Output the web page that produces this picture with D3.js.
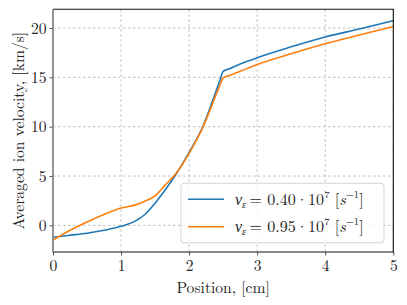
<!DOCTYPE html>
<html><head><meta charset="utf-8">
<script src="https://cdn.jsdelivr.net/npm/d3@7"></script>
<style>body{margin:0;background:#fff;} svg{display:block;}</style>
</head><body>
<svg id="c" width="407" height="305"></svg>
<script>
const positions = [0, 0.25, 0.5, 0.75, 1.0, 1.2, 1.35, 1.5, 1.65, 1.8, 2.0, 2.2, 2.4, 2.45, 2.5, 2.6, 2.75, 3.0, 3.5, 4.0, 4.5, 5.0];
const velLow  = [-1.2, -1.0, -0.8, -0.5, -0.1, 0.4, 1.1, 2.25, 3.6, 5.1, 7.4, 10.0, 13.7, 14.65, 15.6, 15.9, 16.35, 17.0, 18.1, 19.1, 19.9, 20.75];
const velHigh = [-1.5, -0.5, 0.35, 1.1, 1.75, 2.05, 2.45, 3.0, 4.1, 5.2, 7.3, 9.9, 13.3, 14.15, 14.95, 15.22, 15.62, 16.3, 17.4, 18.4, 19.3, 20.15];
const xTicks = [0, 1, 2, 3, 4, 5];
const yTicks = [0, 5, 10, 15, 20];
const seriesNames = ["0.40", "0.95"];

const FONT = '"Latin Modern Roman","Liberation Serif",serif';
const FS = 15.6;
const svg = d3.select("#c");
const L = 53, R = 393.3, T = 9.3, B = 252;
const x = d3.scaleLinear().domain([0, 5]).range([L, R]);
const y = d3.scaleLinear().domain([-2.7, 21.9]).range([B, T]);

// grid
const g = svg.append("g");
g.selectAll("line.gx").data(xTicks).enter().append("line")
  .attr("x1", d => x(d)).attr("x2", d => x(d)).attr("y1", T).attr("y2", B)
  .attr("stroke", "#b0b0b0").attr("stroke-width", 0.8).attr("stroke-dasharray", "2.5,2.5");
g.selectAll("line.gy").data(yTicks).enter().append("line")
  .attr("y1", d => y(d)).attr("y2", d => y(d)).attr("x1", L).attr("x2", R)
  .attr("stroke", "#b0b0b0").attr("stroke-width", 0.8).attr("stroke-dasharray", "2.5,2.5");

// lines
const colors = ["#1f77b4", "#ff7f0e"];
const series = [velLow, velHigh];
const line = d3.line().x(d => x(d[0])).y(d => y(d[1])).curve(d3.curveMonotoneX);
svg.append("defs").append("clipPath").attr("id", "clip").append("rect")
  .attr("x", L).attr("y", T).attr("width", R - L).attr("height", B - T);
series.forEach((s, i) => {
  svg.append("path").attr("clip-path", "url(#clip)")
    .attr("d", line(positions.map((p, j) => [p, s[j]])))
    .attr("fill", "none").attr("stroke", colors[i]).attr("stroke-width", 1.6);
});

// axes
const xa = svg.append("g").attr("transform", `translate(0,${B})`)
  .call(d3.axisBottom(x).tickValues(xTicks).tickSize(3.5).tickPadding(4).tickFormat(d3.format("d")));
const ya = svg.append("g").attr("transform", `translate(${L},0)`)
  .call(d3.axisLeft(y).tickValues(yTicks).tickSize(3.5).tickPadding(3).tickFormat(d3.format("d")));
[xa, ya].forEach(a => {
  a.select(".domain").remove();
  a.selectAll(".tick line").attr("stroke", "#222").attr("stroke-width", 0.8);
  a.selectAll(".tick text").style("font-family", FONT).style("font-size", FS + "px").attr("fill", "#222");
});
xa.selectAll(".tick text").attr("dy", "0.75em");

// spines
svg.append("path").attr("d", `M${L},${T}H${R}V${B}H${L}`).attr("fill", "none")
  .attr("stroke", "#111").attr("stroke-width", 1.1);
svg.append("line").attr("x1", L).attr("x2", L).attr("y1", T).attr("y2", B + 0.5)
  .attr("stroke", "#888").attr("stroke-width", 1.8);

// axis labels
svg.append("text").attr("x", (L + R) / 2).attr("y", 292.5).attr("text-anchor", "middle")
  .style("font-family", FONT).style("font-size", FS + "px").attr("fill", "#222").text("Position, [cm]");
svg.append("text").attr("transform", "rotate(-90)").attr("x", -(T + B) / 2).attr("y", 24)
  .attr("text-anchor", "middle").style("font-family", FONT).style("font-size", FS + "px").attr("fill", "#222")
  .text("Averaged ion velocity, [km/s]");

// legend
const lg = svg.append("g");
lg.append("rect").attr("x", 181).attr("y", 183.3).attr("width", 203).attr("height", 59.5)
  .attr("rx", 3).attr("fill", "#fff").attr("fill-opacity", 0.8).attr("stroke", "#d0d0d0").attr("stroke-width", 0.9);
const rowsY = [199.3, 226.7];
seriesNames.forEach((nm, i) => {
  const ry = rowsY[i];
  lg.append("line").attr("x1", 188).attr("x2", 224).attr("y1", ry).attr("y2", ry)
    .attr("stroke", colors[i]).attr("stroke-width", 1.6);
  const t = lg.append("text").attr("x", 235).attr("y", ry + 5.5)
    .style("font-family", FONT).style("font-size", "16px").attr("fill", "#222");
  t.append("tspan").attr("font-style", "italic").text("ν");
  t.append("tspan").attr("font-style", "italic").style("font-size", "10.5px").attr("dy", 3).text("ε");
  t.append("tspan").attr("dy", -3).text("\u2009= " + nm + "·10");
  t.append("tspan").style("font-size", "10.5px").attr("dy", -7).text("7");
  t.append("tspan").attr("dy", 7).text(" [");
  t.append("tspan").attr("font-style", "italic").text("s");
  t.append("tspan").style("font-size", "10.5px").attr("dy", -7).text("−1");
  t.append("tspan").attr("dy", 7).text("]");
});
</script>
</body></html>
